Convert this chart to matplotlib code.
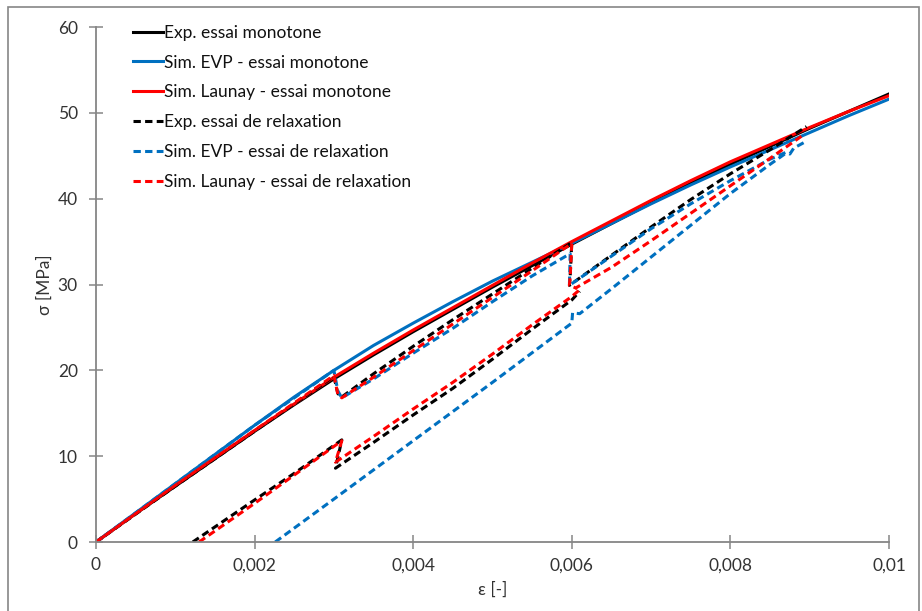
import matplotlib.pyplot as plt
from matplotlib.ticker import FuncFormatter
from matplotlib.patches import Rectangle
plt.rcParams.update({'font.family': ['Lato', 'DejaVu Sans']})

# monotone tests
eps_mono = [0, 0.0005, 0.001, 0.0015, 0.002, 0.0025, 0.003, 0.0035, 0.004, 0.0045, 0.005,
            0.0055, 0.006, 0.0065, 0.007, 0.0075, 0.008, 0.0085, 0.009, 0.0095, 0.01]
exp_mono = [0, 3.3, 6.5, 9.7, 12.9, 16.0, 19.0, 21.8, 24.5, 27.1, 29.7,
            32.2, 34.7, 37.1, 39.5, 41.8, 44.0, 46.1, 48.2, 50.2, 52.2]
evp_mono = [0, 3.4, 6.8, 10.2, 13.6, 16.9, 20.0, 22.9, 25.5, 28.0, 30.4,
            32.6, 34.8, 37.1, 39.4, 41.6, 43.7, 45.7, 47.7, 49.7, 51.6]
lau_mono = [0, 3.3, 6.6, 9.8, 13.0, 16.1, 19.2, 22.0, 24.7, 27.3, 29.9,
            32.5, 35.0, 37.4, 39.8, 42.1, 44.3, 46.3, 48.3, 50.2, 52.0]

# relaxation tests (first branch)
eps_exp_rel = [0, 0.001, 0.002, 0.003, 0.00305, 0.0031, 0.0035, 0.004, 0.0045, 0.005, 0.0055,
               0.006, 0.00598, 0.00597, 0.0065, 0.007, 0.0075, 0.008, 0.0085, 0.00896]
sig_exp_rel = [0, 6.5, 12.9, 19.3, 17.3, 16.9, 19.6, 22.8, 25.9, 28.9, 31.9,
               34.9, 31.0, 29.9, 33.4, 36.7, 39.9, 42.9, 45.7, 48.4]
eps_evp_rel = [0, 0.001, 0.002, 0.003, 0.00305, 0.0031, 0.0035, 0.004, 0.0045, 0.005, 0.0055,
               0.00598, 0.00597, 0.0065, 0.007, 0.0075, 0.008, 0.0085, 0.0087, 0.00875, 0.0088, 0.00896]
sig_evp_rel = [0, 6.8, 13.6, 20.0, 17.6, 16.8, 19.0, 22.0, 24.9, 28.0, 31.0,
               33.6, 29.9, 33.3, 36.5, 39.4, 42.1, 44.6, 45.4, 45.2, 45.9, 46.7]
eps_lau_rel = [0, 0.001, 0.002, 0.003, 0.00305, 0.0031, 0.0035, 0.004, 0.0045, 0.005, 0.0055,
               0.006, 0.00598, 0.00597, 0.00605, 0.0065, 0.007, 0.0075, 0.008, 0.0085, 0.0089]
sig_lau_rel = [0, 6.6, 13.0, 19.4, 17.2, 16.8, 19.2, 22.3, 25.4, 28.5, 31.6,
               34.8, 31.0, 29.9, 29.6, 32.0, 35.1, 38.3, 41.5, 44.7, 47.3]

# relaxation tests (second branch)
eps_exp_rel2 = [0.00122, 0.002, 0.0025, 0.0031, 0.00302, 0.0035, 0.004, 0.0045, 0.005, 0.0055, 0.006, 0.0061]
sig_exp_rel2 = [0, 4.9, 8.0, 11.9, 8.6, 11.6, 14.8, 17.9, 21.3, 24.8, 28.2, 29.2]
eps_evp_rel2 = [0.00226, 0.003, 0.004, 0.005, 0.006, 0.00601, 0.0061, 0.0065, 0.007, 0.0075, 0.008, 0.0085, 0.0087]
sig_evp_rel2 = [0, 5.0, 11.8, 18.6, 25.5, 26.7, 26.6, 29.5, 33.2, 36.9, 40.6, 44.0, 45.3]
eps_lau_rel2 = [0.0013, 0.002, 0.0025, 0.0031, 0.00302, 0.0035, 0.004, 0.0045, 0.005, 0.0055, 0.006, 0.0061, 0.00605]
sig_lau_rel2 = [0, 4.5, 7.8, 11.8, 9.3, 12.3, 15.5, 18.6, 21.9, 25.3, 28.6, 29.4, 29.6]

labels = ["Exp. essai monotone", "Sim. EVP - essai monotone", "Sim. Launay - essai monotone",
          "Exp. essai de relaxation", "Sim. EVP - essai de relaxation", "Sim. Launay - essai de relaxation"]

black = "#000000"
blue = "#0070C0"
red = "#FF0000"
lw = 2.2
dash = (0, (2.4, 1.4))

fig = plt.figure(figsize=(9.22, 6.11), dpi=100)
ax = fig.add_axes([0.1041, 0.1129, 0.8601, 0.8429])

ax.plot(eps_mono, exp_mono, color=black, lw=lw, label=labels[0])
ax.plot(eps_mono, evp_mono, color=blue, lw=lw, label=labels[1])
ax.plot(eps_mono, lau_mono, color=red, lw=lw, label=labels[2])

ax.plot(eps_exp_rel, sig_exp_rel, color=black, lw=lw, ls=dash, label=labels[3])
ax.plot(eps_exp_rel2, sig_exp_rel2, color=black, lw=lw, ls=dash)
ax.plot(eps_evp_rel, sig_evp_rel, color=blue, lw=lw, ls=dash, label=labels[4])
ax.plot(eps_evp_rel2, sig_evp_rel2, color=blue, lw=lw, ls=dash)
ax.plot(eps_lau_rel, sig_lau_rel, color=red, lw=lw, ls=dash, label=labels[5])
ax.plot(eps_lau_rel2, sig_lau_rel2, color=red, lw=lw, ls=dash)

ax.set_xlim(0, 0.01)
ax.set_ylim(0, 60)
ax.set_xticks([0, 0.002, 0.004, 0.006, 0.008, 0.01])
ax.set_yticks(range(0, 61, 10))


def comma_fmt(v, pos):
    if abs(v) < 1e-12:
        return "0"
    return ("%g" % v).replace(".", ",")


ax.xaxis.set_major_formatter(FuncFormatter(comma_fmt))

for s in ["top", "right"]:
    ax.spines[s].set_visible(False)
for s in ["left", "bottom"]:
    ax.spines[s].set_color("#868686")
    ax.spines[s].set_linewidth(1.3)
ax.tick_params(direction="inout", length=10, width=1.1, color="#868686",
               labelsize=12.5, labelcolor="#333333", pad=6)
ax.tick_params(axis="y", pad=8)

ax.set_xlabel("ε [-]", fontsize=12.5, color="#333333", labelpad=6)
ax.set_ylabel("σ [MPa]", fontsize=12.5, color="#333333")
ax.yaxis.set_label_coords(-0.055, 0.5)

leg = ax.legend(loc="upper left", bbox_to_anchor=(0.038, 1.018), frameon=False, fontsize=12.5,
                handlelength=1.75, handletextpad=0.05, labelspacing=0.8, borderaxespad=0)
for t in leg.get_texts():
    t.set_color("#111111")

# outer chart border
fig.patches.append(Rectangle((8 / 922, -0.01), 911 / 922, 1 - 7 / 611 + 0.01,
                             transform=fig.transFigure, fill=False, edgecolor="#868686", lw=1.2))

fig.savefig("out.png", dpi=100)
